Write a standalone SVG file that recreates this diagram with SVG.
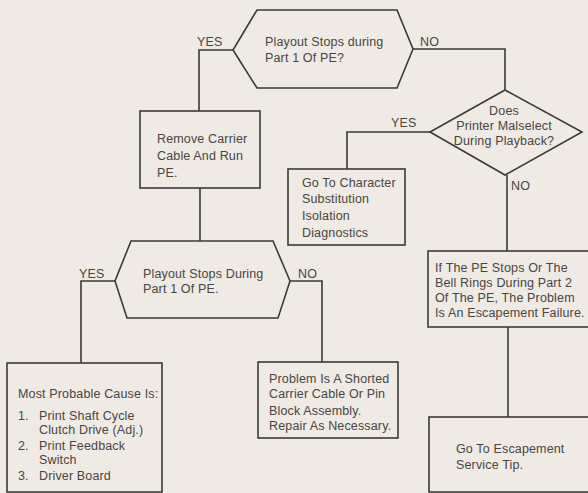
<svg xmlns="http://www.w3.org/2000/svg" width="588" height="493" viewBox="0 0 588 493">
<style>
.bg{fill:#efeae4}
.shape{fill:none;stroke:#3d3935;stroke-width:1.6}
.wire{fill:none;stroke:#3d3935;stroke-width:1.6}
text{font-family:"Liberation Sans",Arial,sans-serif;font-size:12.5px;letter-spacing:0.15px;fill:#4a4541}
</style>
<rect class="bg" x="0" y="0" width="588" height="493"/>
<g id="connectors">
<polyline class="wire" points="233,50 199,50 199,111"/>
<polyline class="wire" points="413,49 505,49 505,90"/>
<line class="wire" x1="200" y1="188" x2="200" y2="241"/>
<polyline class="wire" points="430,132 347,132 347,169"/>
<line class="wire" x1="507" y1="175" x2="507" y2="251"/>
<line class="wire" x1="508" y1="327" x2="508" y2="417"/>
<polyline class="wire" points="115,281 81,281 81,363"/>
<polyline class="wire" points="290,281 322,281 322,362"/>
<text x="197" y="46">YES</text>
<text x="420" y="46">NO</text>
<text x="391" y="127">YES</text>
<text x="511" y="190">NO</text>
<text x="79" y="278">YES</text>
<text x="298" y="278">NO</text>
</g>
<g id="q1">
<polygon class="shape" points="257,10 397,10 413,49 397,88 257,88 233,50"/>
<text x="265" y="46">Playout Stops during</text>
<text x="265" y="62">Part 1 Of PE?</text>
</g>
<g id="remove">
<rect class="shape" x="140" y="111" width="120" height="77"/>
<text x="157" y="143">Remove Carrier</text>
<text x="157" y="160">Cable And Run</text>
<text x="157" y="177">PE.</text>
</g>
<g id="q2">
<polygon class="shape" points="505,90 582,132 505,175 430,132"/>
<text x="504" y="115" text-anchor="middle">Does</text>
<text x="504" y="130" text-anchor="middle">Printer Malselect</text>
<text x="504" y="145" text-anchor="middle">During Playback?</text>
</g>
<g id="charsub">
<rect class="shape" x="288" y="169" width="117" height="76"/>
<text x="302" y="187">Go To Character</text>
<text x="302" y="203">Substitution</text>
<text x="302" y="220">Isolation</text>
<text x="302" y="237">Diagnostics</text>
</g>
<g id="pe">
<rect class="shape" x="428" y="251" width="165" height="76"/>
<text x="435" y="272">If The PE Stops Or The</text>
<text x="435" y="287">Bell Rings During Part 2</text>
<text x="435" y="302">Of The PE, The Problem</text>
<text x="435" y="317">Is An Escapement Failure.</text>
</g>
<g id="q3">
<polygon class="shape" points="131,241 273,241 290,281 278,318 127,318 115,281"/>
<text x="143" y="278">Playout Stops During</text>
<text x="143" y="293">Part 1 Of PE.</text>
</g>
<g id="cause">
<rect class="shape" x="7" y="363" width="155" height="129"/>
<text x="18" y="398">Most Probable Cause Is:</text>
<text x="18" y="420">1.</text>
<text x="39" y="420">Print Shaft Cycle</text>
<text x="39" y="434">Clutch Drive (Adj.)</text>
<text x="18" y="450">2.</text>
<text x="39" y="450">Print Feedback</text>
<text x="39" y="464">Switch</text>
<text x="18" y="480">3.</text>
<text x="39" y="480">Driver Board</text>
</g>
<g id="shorted">
<rect class="shape" x="258" y="362" width="140" height="76"/>
<text x="269" y="383">Problem Is A Shorted</text>
<text x="269" y="398">Carrier Cable Or Pin</text>
<text x="269" y="415">Block Assembly.</text>
<text x="269" y="430">Repair As Necessary.</text>
</g>
<g id="escapement">
<rect class="shape" x="429" y="417" width="164" height="75"/>
<text x="456" y="453">Go To Escapement</text>
<text x="456" y="469">Service Tip.</text>
</g>
</svg>
